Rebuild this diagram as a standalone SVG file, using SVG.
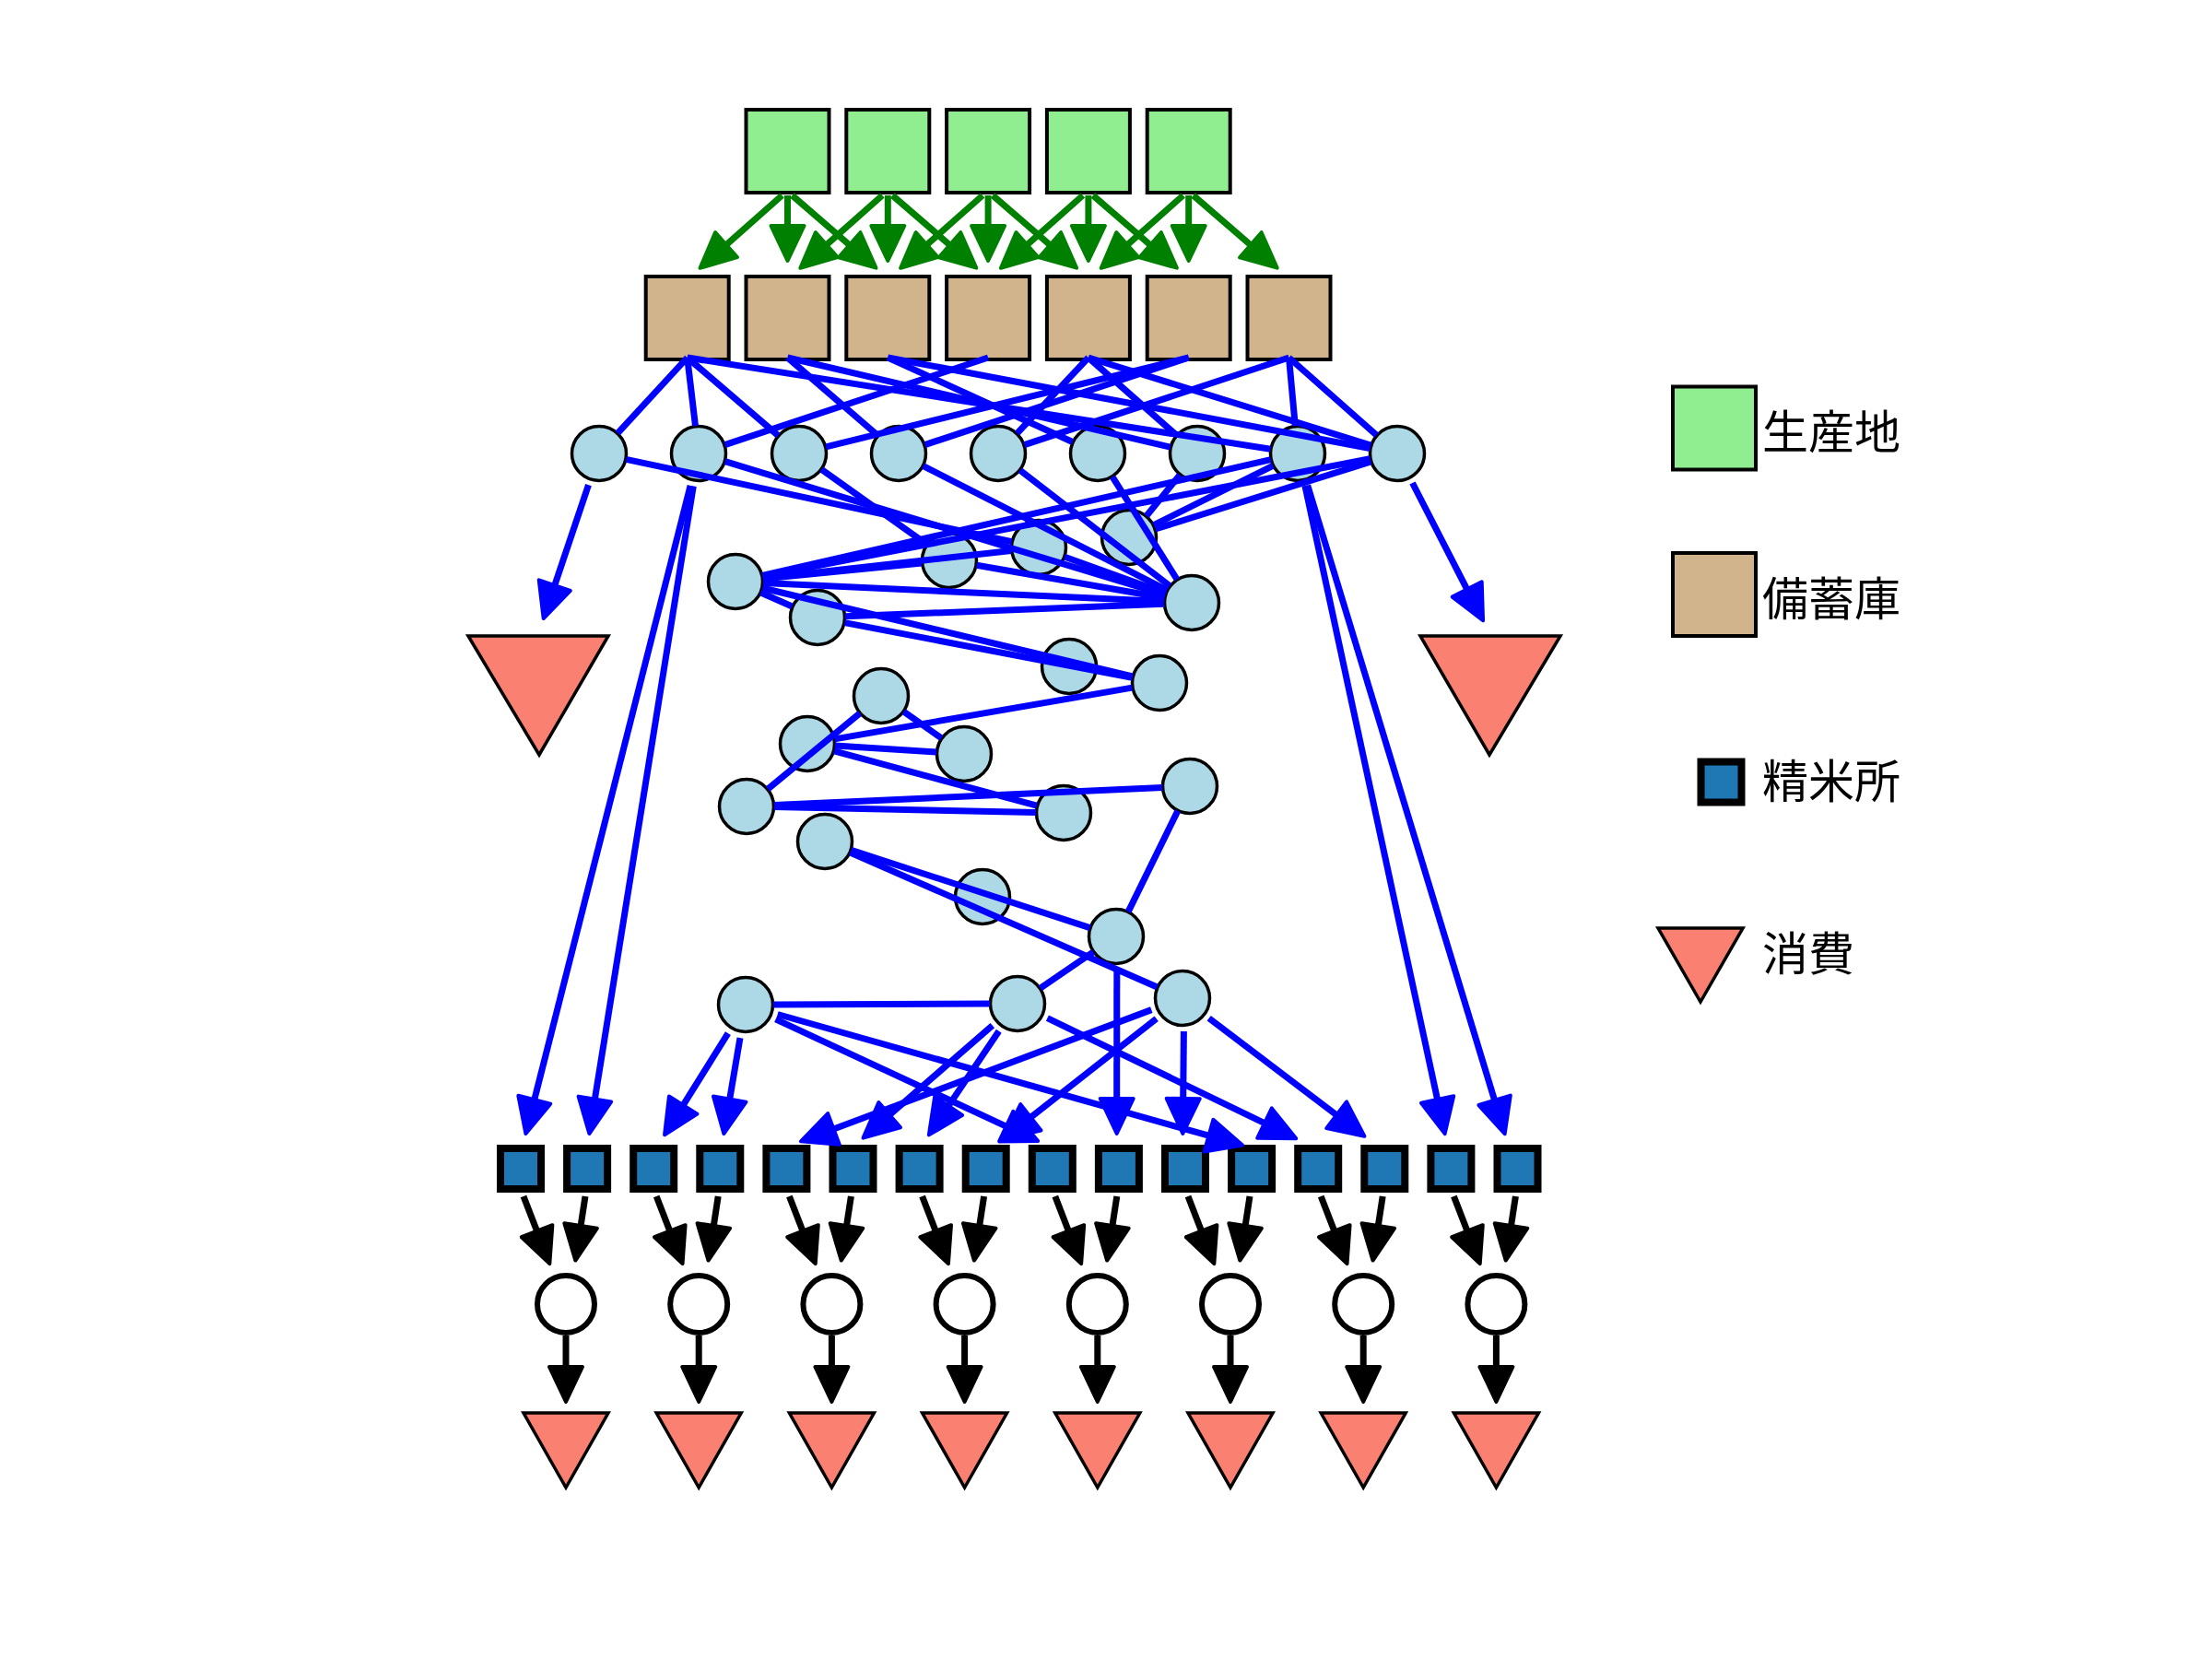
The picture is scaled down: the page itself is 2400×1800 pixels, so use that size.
<svg xmlns="http://www.w3.org/2000/svg" width="2400" height="1800" viewBox="0 0 2400 1800">
<style>
.g{fill:#90EE90;stroke:#000;stroke-width:4}
.t{fill:#D2B48C;stroke:#000;stroke-width:4}
.c{fill:#ADD8E6;stroke:#000;stroke-width:3.5}
.s{fill:#1F77B4;stroke:#000;stroke-width:8}
.w{fill:#fff;stroke:#000;stroke-width:6}
.v{fill:#FA8072;stroke:#000;stroke-width:3.5;stroke-linejoin:miter}
.eg{stroke:#008000;stroke-width:7;fill:none;marker-end:url(#mg)}
.eb{stroke:#0000FF;stroke-width:7;fill:none}
.ea{stroke:#0000FF;stroke-width:7;fill:none;marker-end:url(#mb)}
.ek{stroke:#000;stroke-width:7;fill:none;marker-end:url(#mk)}
.lbl{font-family:'Noto Sans CJK JP','Noto Sans CJK SC',sans-serif;font-size:50px;fill:#000}
</style>
<defs>
<marker id="mg" markerUnits="userSpaceOnUse" markerWidth="48" markerHeight="48" viewBox="-4 -24 48 48" refX="0" refY="0" orient="auto"><path d="M38,0 L0,-18 L0,18 Z" fill="#008000" stroke="#008000" stroke-width="4" stroke-linejoin="round"/></marker>
<marker id="mb" markerUnits="userSpaceOnUse" markerWidth="48" markerHeight="48" viewBox="-4 -24 48 48" refX="0" refY="0" orient="auto"><path d="M38,0 L0,-18 L0,18 Z" fill="#0000FF" stroke="#0000FF" stroke-width="4" stroke-linejoin="round"/></marker>
<marker id="mk" markerUnits="userSpaceOnUse" markerWidth="48" markerHeight="48" viewBox="-4 -24 48 48" refX="0" refY="0" orient="auto"><path d="M38,0 L0,-18 L0,18 Z" fill="#000" stroke="#000" stroke-width="4" stroke-linejoin="round"/></marker>
</defs>
<rect width="2400" height="1800" fill="#fff"/>
<g id="nodes">
<g id="P0"><rect class="g" x="809.5" y="119" width="90" height="90"/></g>
<g id="P1"><rect class="g" x="918.3" y="119" width="90" height="90"/></g>
<g id="P2"><rect class="g" x="1027.1" y="119" width="90" height="90"/></g>
<g id="P3"><rect class="g" x="1135.9" y="119" width="90" height="90"/></g>
<g id="P4"><rect class="g" x="1244.7" y="119" width="90" height="90"/></g>
<g id="T0"><rect class="t" x="700.7" y="300" width="90" height="90"/></g>
<g id="T1"><rect class="t" x="809.5" y="300" width="90" height="90"/></g>
<g id="T2"><rect class="t" x="918.3" y="300" width="90" height="90"/></g>
<g id="T3"><rect class="t" x="1027.1" y="300" width="90" height="90"/></g>
<g id="T4"><rect class="t" x="1135.9" y="300" width="90" height="90"/></g>
<g id="T5"><rect class="t" x="1244.7" y="300" width="90" height="90"/></g>
<g id="T6"><rect class="t" x="1353.5" y="300" width="90" height="90"/></g>
<g id="A0"><circle class="c" cx="650" cy="492" r="29.5"/></g>
<g id="A1"><circle class="c" cx="758" cy="492" r="29.5"/></g>
<g id="A2"><circle class="c" cx="867" cy="492" r="29.5"/></g>
<g id="A3"><circle class="c" cx="975" cy="492" r="29.5"/></g>
<g id="A4"><circle class="c" cx="1083" cy="492" r="29.5"/></g>
<g id="A5"><circle class="c" cx="1191" cy="492" r="29.5"/></g>
<g id="A6"><circle class="c" cx="1299" cy="492" r="29.5"/></g>
<g id="A7"><circle class="c" cx="1408" cy="492" r="29.5"/></g>
<g id="A8"><circle class="c" cx="1516" cy="492" r="29.5"/></g>
<g id="M1"><circle class="c" cx="1030" cy="608" r="29.5"/></g>
<g id="M2"><circle class="c" cx="1127" cy="594" r="29.5"/></g>
<g id="M3"><circle class="c" cx="1225" cy="583" r="29.5"/></g>
<g id="M4"><circle class="c" cx="798" cy="631" r="29.5"/></g>
<g id="M5"><circle class="c" cx="1293" cy="654" r="29.5"/></g>
<g id="M6"><circle class="c" cx="887" cy="670" r="29.5"/></g>
<g id="M7"><circle class="c" cx="1160" cy="723" r="29.5"/></g>
<g id="M8"><circle class="c" cx="1258" cy="741" r="29.5"/></g>
<g id="M9"><circle class="c" cx="956" cy="755" r="29.5"/></g>
<g id="M10"><circle class="c" cx="876" cy="807" r="29.5"/></g>
<g id="M11"><circle class="c" cx="1046" cy="818" r="29.5"/></g>
<g id="M12"><circle class="c" cx="810" cy="875" r="29.5"/></g>
<g id="M13"><circle class="c" cx="1154" cy="882" r="29.5"/></g>
<g id="M14"><circle class="c" cx="1291" cy="853" r="29.5"/></g>
<g id="M15"><circle class="c" cx="895" cy="913" r="29.5"/></g>
<g id="M16"><circle class="c" cx="1066" cy="973" r="29.5"/></g>
<g id="M17"><circle class="c" cx="1211" cy="1016" r="29.5"/></g>
<g id="M18"><circle class="c" cx="809" cy="1090" r="29.5"/></g>
<g id="M19"><circle class="c" cx="1104" cy="1089" r="29.5"/></g>
<g id="M20"><circle class="c" cx="1283" cy="1083" r="29.5"/></g>
<g id="BL"><polygon class="v" points="508,690 660,690 585,819"/></g>
<g id="BR"><polygon class="v" points="1541,690 1693,690 1616,819"/></g>
<g id="S0"><rect class="s" x="543" y="1246" width="44" height="44"/></g>
<g id="S1"><rect class="s" x="615.1" y="1246" width="44" height="44"/></g>
<g id="S2"><rect class="s" x="687.2" y="1246" width="44" height="44"/></g>
<g id="S3"><rect class="s" x="759.3" y="1246" width="44" height="44"/></g>
<g id="S4"><rect class="s" x="831.4" y="1246" width="44" height="44"/></g>
<g id="S5"><rect class="s" x="903.5" y="1246" width="44" height="44"/></g>
<g id="S6"><rect class="s" x="975.6" y="1246" width="44" height="44"/></g>
<g id="S7"><rect class="s" x="1047.7" y="1246" width="44" height="44"/></g>
<g id="S8"><rect class="s" x="1119.8" y="1246" width="44" height="44"/></g>
<g id="S9"><rect class="s" x="1191.9" y="1246" width="44" height="44"/></g>
<g id="S10"><rect class="s" x="1264" y="1246" width="44" height="44"/></g>
<g id="S11"><rect class="s" x="1336.1" y="1246" width="44" height="44"/></g>
<g id="S12"><rect class="s" x="1408.2" y="1246" width="44" height="44"/></g>
<g id="S13"><rect class="s" x="1480.3" y="1246" width="44" height="44"/></g>
<g id="S14"><rect class="s" x="1552.4" y="1246" width="44" height="44"/></g>
<g id="S15"><rect class="s" x="1624.5" y="1246" width="44" height="44"/></g>
<g id="W0"><circle class="w" cx="614" cy="1415" r="31"/></g>
<g id="W1"><circle class="w" cx="758.2" cy="1415" r="31"/></g>
<g id="W2"><circle class="w" cx="902.4" cy="1415" r="31"/></g>
<g id="W3"><circle class="w" cx="1046.6" cy="1415" r="31"/></g>
<g id="W4"><circle class="w" cx="1190.8" cy="1415" r="31"/></g>
<g id="W5"><circle class="w" cx="1335" cy="1415" r="31"/></g>
<g id="W6"><circle class="w" cx="1479.2" cy="1415" r="31"/></g>
<g id="W7"><circle class="w" cx="1623.4" cy="1415" r="31"/></g>
<g id="C0"><polygon class="v" points="568,1533 660,1533 614,1614"/></g>
<g id="C1"><polygon class="v" points="712.2,1533 804.2,1533 758.2,1614"/></g>
<g id="C2"><polygon class="v" points="856.4,1533 948.4,1533 902.4,1614"/></g>
<g id="C3"><polygon class="v" points="1000.6,1533 1092.6,1533 1046.6,1614"/></g>
<g id="C4"><polygon class="v" points="1144.8,1533 1236.8,1533 1190.8,1614"/></g>
<g id="C5"><polygon class="v" points="1289,1533 1381,1533 1335,1614"/></g>
<g id="C6"><polygon class="v" points="1433.2,1533 1525.2,1533 1479.2,1614"/></g>
<g id="C7"><polygon class="v" points="1577.4,1533 1669.4,1533 1623.4,1614"/></g>
</g>
<g id="connectors">
<line class="eg" x1="848.5" y1="212" x2="788" y2="265.6"/>
<line class="eg" x1="854.5" y1="212" x2="854.5" y2="245"/>
<line class="eg" x1="859.5" y1="212" x2="921.7" y2="265.8"/>
<line class="eg" x1="957.3" y1="212" x2="896.8" y2="265.6"/>
<line class="eg" x1="963.3" y1="212" x2="963.3" y2="245"/>
<line class="eg" x1="968.3" y1="212" x2="1030.5" y2="265.8"/>
<line class="eg" x1="1066.1" y1="212" x2="1005.6" y2="265.6"/>
<line class="eg" x1="1072.1" y1="212" x2="1072.1" y2="245"/>
<line class="eg" x1="1077.1" y1="212" x2="1139.3" y2="265.8"/>
<line class="eg" x1="1174.9" y1="212" x2="1114.4" y2="265.6"/>
<line class="eg" x1="1180.9" y1="212" x2="1180.9" y2="245"/>
<line class="eg" x1="1185.9" y1="212" x2="1248.1" y2="265.8"/>
<line class="eg" x1="1283.7" y1="212" x2="1223.2" y2="265.6"/>
<line class="eg" x1="1289.7" y1="212" x2="1289.7" y2="245"/>
<line class="eg" x1="1294.7" y1="212" x2="1356.9" y2="265.8"/>
<line class="eb" x1="745.7" y1="388" x2="670.3" y2="469.9"/>
<line class="eb" x1="745.7" y1="388" x2="754.5" y2="462.2"/>
<line class="eb" x1="745.7" y1="388" x2="844.2" y2="472.5"/>
<line class="eb" x1="745.7" y1="388" x2="1378.4" y2="487.3"/>
<line class="eb" x1="854.5" y1="388" x2="952.3" y2="472.4"/>
<line class="eb" x1="854.5" y1="388" x2="1269.8" y2="485.2"/>
<line class="eb" x1="963.3" y1="388" x2="1163.7" y2="479.5"/>
<line class="eb" x1="963.3" y1="388" x2="1486.5" y2="486.5"/>
<line class="eb" x1="1072.1" y1="388" x2="786.5" y2="482.6"/>
<line class="eb" x1="1180.9" y1="388" x2="1103.6" y2="470.2"/>
<line class="eb" x1="1180.9" y1="388" x2="1276.5" y2="472.2"/>
<line class="eb" x1="1180.9" y1="388" x2="1487.3" y2="483.1"/>
<line class="eb" x1="1289.7" y1="388" x2="896.1" y2="484.8"/>
<line class="eb" x1="1289.7" y1="388" x2="1003.5" y2="482.6"/>
<line class="eb" x1="1398.5" y1="388" x2="1111.5" y2="482.6"/>
<line class="eb" x1="1398.5" y1="388" x2="1405.3" y2="462.1"/>
<line class="eb" x1="1398.5" y1="388" x2="1493.5" y2="472.1"/>
<line class="eb" x1="679.3" y1="498.3" x2="1097.7" y2="587.7"/>
<line class="eb" x1="786.7" y1="500.7" x2="1264.3" y2="645.3"/>
<line class="eb" x1="891.4" y1="509.4" x2="1005.6" y2="590.6"/>
<line class="eb" x1="1001.7" y1="505.6" x2="1266.3" y2="640.4"/>
<line class="eb" x1="1106.8" y1="510.3" x2="1269.2" y2="635.7"/>
<line class="eb" x1="1207" y1="517.4" x2="1277" y2="628.6"/>
<line class="eb" x1="1280.1" y1="515.3" x2="1243.9" y2="559.7"/>
<line class="eb" x1="1381.1" y1="505.4" x2="1251.9" y2="569.6"/>
<line class="eb" x1="1487.4" y1="501" x2="1253.6" y2="574"/>
<line class="eb" x1="1378.8" y1="498.7" x2="827.2" y2="624.3"/>
<line class="eb" x1="1486.5" y1="497.7" x2="827.5" y2="625.3"/>
<line class="eb" x1="827.9" y1="628" x2="1000.1" y2="611"/>
<line class="eb" x1="827.8" y1="627.6" x2="1097.2" y2="597.4"/>
<line class="eb" x1="828" y1="632.4" x2="1263" y2="652.6"/>
<line class="eb" x1="825.5" y1="643" x2="859.5" y2="658"/>
<line class="eb" x1="827.2" y1="638" x2="1228.8" y2="734"/>
<line class="eb" x1="917" y1="668.8" x2="1263" y2="655.2"/>
<line class="eb" x1="916.5" y1="675.6" x2="1228.5" y2="735.4"/>
<line class="eb" x1="1059.6" y1="613.2" x2="1263.5" y2="648.8"/>
<line class="eb" x1="1155.2" y1="604.2" x2="1264.8" y2="643.8"/>
<line class="eb" x1="1228.4" y1="746.1" x2="905.6" y2="801.9"/>
<line class="eb" x1="932.8" y1="774" x2="833.2" y2="856"/>
<line class="eb" x1="980.6" y1="772.2" x2="1021.4" y2="800.8"/>
<line class="eb" x1="905.9" y1="808.9" x2="1016.1" y2="816.1"/>
<line class="eb" x1="905" y1="814.8" x2="1125" y2="874.2"/>
<line class="eb" x1="840" y1="875.6" x2="1124" y2="881.4"/>
<line class="eb" x1="840" y1="873.6" x2="1261" y2="854.4"/>
<line class="eb" x1="1277.8" y1="879.9" x2="1224.2" y2="989.1"/>
<line class="eb" x1="923.5" y1="922.3" x2="1182.5" y2="1006.7"/>
<line class="eb" x1="922.5" y1="925" x2="1255.5" y2="1071"/>
<line class="eb" x1="1186.2" y1="1032.9" x2="1128.8" y2="1072.1"/>
<line class="eb" x1="839" y1="1090" x2="1074" y2="1089"/>
<line class="ea" x1="638.5" y1="526.1" x2="601.8" y2="635.1"/>
<line class="ea" x1="1532.5" y1="524" x2="1591.7" y2="639.4"/>
<line class="ea" x1="749.1" y1="526.9" x2="579.8" y2="1193.2"/>
<line class="ea" x1="752.3" y1="527.5" x2="645.4" y2="1192.5"/>
<line class="ea" x1="789.9" y1="1121.2" x2="741.2" y2="1199.1"/>
<line class="ea" x1="803" y1="1126.2" x2="791.7" y2="1192.6"/>
<line class="ea" x1="1249.3" y1="1095.6" x2="904.5" y2="1225"/>
<line class="ea" x1="1076.8" y1="1112.6" x2="965.2" y2="1209.7"/>
<line class="ea" x1="1083.8" y1="1118.8" x2="1029.1" y2="1199.9"/>
<line class="ea" x1="1254.7" y1="1105.2" x2="1118.4" y2="1212.3"/>
<line class="ea" x1="841.6" y1="1105.9" x2="1091.7" y2="1222.1"/>
<line class="ea" x1="1211.8" y1="1052" x2="1211.7" y2="1192"/>
<line class="ea" x1="1284.4" y1="1119" x2="1283.7" y2="1192"/>
<line class="ea" x1="843.7" y1="1100.5" x2="1311.5" y2="1232.2"/>
<line class="ea" x1="1136.4" y1="1104.7" x2="1372" y2="1218.6"/>
<line class="ea" x1="1311.7" y1="1104.8" x2="1450.1" y2="1209.8"/>
<line class="ea" x1="1415.9" y1="527.1" x2="1559.6" y2="1193"/>
<line class="ea" x1="1418.7" y1="526.4" x2="1621.6" y2="1193.8"/>
<line class="ek" x1="568" y1="1298" x2="582.6" y2="1335.7"/>
<line class="ek" x1="635" y1="1298" x2="630.1" y2="1330"/>
<line class="ek" x1="614" y1="1449" x2="614" y2="1483"/>
<line class="ek" x1="712.2" y1="1298" x2="726.8" y2="1335.7"/>
<line class="ek" x1="779.2" y1="1298" x2="774.3" y2="1330"/>
<line class="ek" x1="758.2" y1="1449" x2="758.2" y2="1483"/>
<line class="ek" x1="856.4" y1="1298" x2="871" y2="1335.7"/>
<line class="ek" x1="923.4" y1="1298" x2="918.5" y2="1330"/>
<line class="ek" x1="902.4" y1="1449" x2="902.4" y2="1483"/>
<line class="ek" x1="1000.6" y1="1298" x2="1015.2" y2="1335.7"/>
<line class="ek" x1="1067.6" y1="1298" x2="1062.7" y2="1330"/>
<line class="ek" x1="1046.6" y1="1449" x2="1046.6" y2="1483"/>
<line class="ek" x1="1144.8" y1="1298" x2="1159.4" y2="1335.7"/>
<line class="ek" x1="1211.8" y1="1298" x2="1206.9" y2="1330"/>
<line class="ek" x1="1190.8" y1="1449" x2="1190.8" y2="1483"/>
<line class="ek" x1="1289" y1="1298" x2="1303.6" y2="1335.7"/>
<line class="ek" x1="1356" y1="1298" x2="1351.1" y2="1330"/>
<line class="ek" x1="1335" y1="1449" x2="1335" y2="1483"/>
<line class="ek" x1="1433.2" y1="1298" x2="1447.8" y2="1335.7"/>
<line class="ek" x1="1500.2" y1="1298" x2="1495.3" y2="1330"/>
<line class="ek" x1="1479.2" y1="1449" x2="1479.2" y2="1483"/>
<line class="ek" x1="1577.4" y1="1298" x2="1592" y2="1335.7"/>
<line class="ek" x1="1644.4" y1="1298" x2="1639.5" y2="1330"/>
<line class="ek" x1="1623.4" y1="1449" x2="1623.4" y2="1483"/>
</g>
<g id="legend">
<rect class="g" x="1815" y="419.5" width="90" height="90"/>
<text class="lbl" x="1912" y="487">生産地</text>
<rect class="t" x="1815" y="600" width="90" height="90"/>
<text class="lbl" x="1912" y="668">備蓄庫</text>
<rect class="s" x="1845.5" y="826.5" width="44" height="44"/>
<text class="lbl" x="1912" y="866">精米所</text>
<polygon class="v" points="1799,1007 1891,1007 1845,1087"/>
<text class="lbl" x="1912" y="1053">消費</text>
</g>
</svg>
